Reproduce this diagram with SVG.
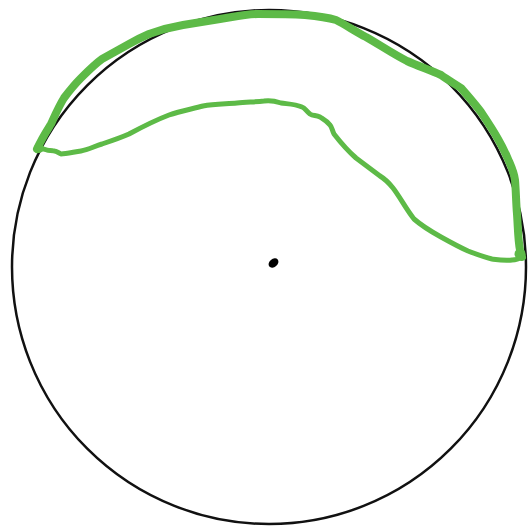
<svg xmlns="http://www.w3.org/2000/svg" width="532" height="526" viewBox="0 0 532 526">
<style>
.g{fill:none;stroke:#5dba47;stroke-linecap:round;stroke-linejoin:round}
</style>
<rect width="532" height="526" fill="#fff"/>
<g id="circle">
<circle cx="269" cy="267" r="257" fill="none" stroke="#111" stroke-width="2.5"/>
<ellipse cx="273.5" cy="263" rx="5.5" ry="4" transform="rotate(-40 273.5 263)" fill="#000"/>
</g>
<g id="region">
<path class="g" stroke-width="8" d="M37,149 C42,138 46,132 51,124 C56,113 59,106 64,98 C70,90 75,84 81,78 C88,71 95,64 102,59 C111,54 120,49 129,44 C136,40 142,37 149,34 C160,30 171,27 183,25 C196,23 208,21 220,19 C233,17 245,14 258,14 C274,14 289,14 305,15 C316,16 326,17 336,20 C346,25 356,32 366,37 C380,45 393,54 407,61 C418,66 430,70 441,75 C448,80 455,84 461,88 C468,96 475,104 481,112 C487,121 493,130 498,139 C502,146 505,152 508,159 C511,166 514,172 515,180 C516,192 516,202 517,214 C518,228 518,240 520,250 L522,257"/>
<path class="g" stroke-width="5" d="M522,257 C519,259 516,260 512,260 C505,261 499,260 492,259 C484,257 476,254 468,251 C459,247 450,242 441,237 C432,232 422,226 414,219 C406,209 400,197 393,188 C389,183 385,179 380,176 C372,170 364,164 356,158 C348,151 341,143 334,134 C332,130 332,127 330,125 C327,121 323,119 320,117 C316,115 313,116 310,114 C306,111 305,108 302,107 C295,104 288,104 281,103 C275,101 270,100 264,101 C255,102 246,102 237,103 C226,104 214,104 203,106 C192,109 180,111 169,115 C156,120 142,127 129,134 C120,138 111,141 102,144 C95,146 88,150 81,151 C74,152 66,154 61,154 C58,153 57,151 54,151 C51,150 49,151 47,150 C44,149 40,148 37,148"/>
<circle cx="39" cy="148" r="5" fill="#5dba47"/>
<circle cx="520" cy="254" r="5.5" fill="#5dba47"/>
</g>
</svg>
